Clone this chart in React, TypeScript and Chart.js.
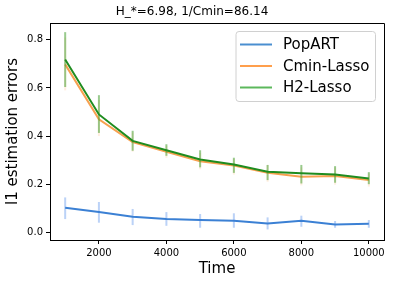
import React, { useEffect, useRef } from "react";
import { Chart, registerables } from "chart.js";

Chart.register(...registerables);

const times = [1000, 2000, 3000, 4000, 5000, 6000, 7000, 8000, 9000, 10000];
const popart = [0.102, 0.084, 0.065, 0.055, 0.051, 0.048, 0.037, 0.048, 0.032, 0.036];
const popartLo = [0.055, 0.04, 0.03, 0.027, 0.019, 0.019, 0.012, 0.023, 0.019, 0.019];
const popartHi = [0.145, 0.126, 0.097, 0.084, 0.076, 0.079, 0.062, 0.069, 0.047, 0.051];
const cmin = [0.698, 0.47, 0.375, 0.335, 0.295, 0.278, 0.248, 0.231, 0.234, 0.217];
const cminLo = [0.59, 0.4, 0.335, 0.31, 0.262, 0.24, 0.21, 0.195, 0.198, 0.19];
const cminHi = [0.81, 0.55, 0.415, 0.36, 0.33, 0.305, 0.28, 0.27, 0.27, 0.245];
const h2 = [0.718, 0.49, 0.38, 0.341, 0.303, 0.282, 0.252, 0.245, 0.24, 0.224];
const h2Lo = [0.604, 0.413, 0.339, 0.318, 0.27, 0.247, 0.217, 0.203, 0.206, 0.2];
const h2Hi = [0.832, 0.57, 0.422, 0.366, 0.341, 0.31, 0.28, 0.28, 0.275, 0.25];
const xTicks = [2000, 4000, 6000, 8000, 10000];
const yTicks = [0.0, 0.2, 0.4, 0.6, 0.8];
const seriesNames = ["PopART", "Cmin-Lasso", "H2-Lasso"];
const titleText = "H_*=6.98, 1/Cmin=86.14";

const lineColors = ["#3b80d4", "#f7a150", "#1f8c1f"];
const barColors = ["rgba(120,165,240,0.5)", "rgba(255,170,100,0.2)", "rgba(70,160,50,0.55)"];
const legendColors = ["#4a8fd0", "#ff9f4c", "#5cb85c"];
const lows = [popartLo, cminLo, h2Lo];
const highs = [popartHi, cminHi, h2Hi];

const FONT = "'DejaVu Sans', sans-serif";

const errorBarPlugin = {
  id: "errorBars",
  beforeDatasetDraw(chart: any, args: any) {
    const i = args.index;
    const xs = chart.scales.x;
    const ys = chart.scales.y;
    const ctx = chart.ctx;
    ctx.save();
    ctx.strokeStyle = barColors[i];
    ctx.lineWidth = 2;
    times.forEach((t, k) => {
      const px = xs.getPixelForValue(t);
      ctx.beginPath();
      ctx.moveTo(px, ys.getPixelForValue(lows[i][k]));
      ctx.lineTo(px, ys.getPixelForValue(highs[i][k]));
      ctx.stroke();
    });
    ctx.restore();
  },
};

const legendPlugin = {
  id: "innerLegend",
  afterDraw(chart: any) {
    const ctx = chart.ctx;
    const ca = chart.chartArea;
    const x0 = ca.right - 148;
    const y0 = ca.top + 8.5;
    const w = 139.5;
    const h = 70;
    ctx.save();
    ctx.fillStyle = "rgba(255,255,255,0.8)";
    ctx.strokeStyle = "#d0d0d0";
    ctx.lineWidth = 1;
    ctx.beginPath();
    (ctx as any).roundRect(x0, y0, w, h, 3);
    ctx.fill();
    ctx.stroke();
    ctx.font = `15px ${FONT}`;
    ctx.textBaseline = "middle";
    ctx.textAlign = "left";
    seriesNames.forEach((name, i) => {
      const cy = y0 + 13 + i * 21.5;
      ctx.strokeStyle = legendColors[i];
      ctx.lineWidth = 2;
      ctx.beginPath();
      ctx.moveTo(x0 + 4, cy);
      ctx.lineTo(x0 + 36, cy);
      ctx.stroke();
      ctx.fillStyle = "#000";
      ctx.fillText(name, x0 + 47, cy + 1);
    });
    ctx.restore();
  },
};

export default function App() {
  const ref = useRef<HTMLCanvasElement>(null);
  useEffect(() => {
    document.body.style.margin = "0";
    const series = [popart, cmin, h2];
    const chart = new Chart(ref.current as HTMLCanvasElement, {
      type: "line",
      data: {
        datasets: series.map((s, i) => ({
          label: seriesNames[i],
          data: times.map((t, k) => ({ x: t, y: s[k] })),
          borderColor: lineColors[i],
          backgroundColor: lineColors[i],
          borderWidth: 2,
          pointRadius: 0,
          tension: 0,
          fill: false,
          order: 3 - i,
        })),
      },
      options: {
        responsive: false,
        animation: false,
        layout: { padding: { left: 0, right: 10, top: 0, bottom: 0 } },
        plugins: {
          legend: { display: false },
          tooltip: { enabled: false },
          title: {
            display: true,
            text: titleText,
            color: "#000",
            font: { family: FONT, size: 12, weight: "normal" as any },
            padding: { top: 5, bottom: 3.6 },
          },
        },
        scales: {
          x: {
            type: "linear",
            min: 550,
            max: 10450,
            afterBuildTicks: (s: any) => {
              s.ticks = xTicks.map((v) => ({ value: v }));
            },
            afterFit: (s: any) => {
              s.height = 43;
            },
            ticks: {
              color: "#000",
              font: { family: FONT, size: 10 },
              padding: 3,
              maxRotation: 0,
              callback: (v: any) => String(v),
            },
            grid: { drawOnChartArea: false, drawTicks: true, tickLength: 4, color: "#000" },
            border: { display: true, color: "#000", width: 1 },
            title: {
              display: true,
              text: "Time",
              color: "#000",
              font: { family: FONT, size: 15 },
              padding: { top: 0, bottom: 5 },
            },
          },
          y: {
            type: "linear",
            min: -0.032,
            max: 0.87,
            afterBuildTicks: (s: any) => {
              s.ticks = yTicks.map((v) => ({ value: v }));
            },
            afterFit: (s: any) => {
              s.width = 50;
            },
            ticks: {
              color: "#000",
              font: { family: FONT, size: 10 },
              padding: 3,
              callback: (v: any) => Number(v).toFixed(1),
            },
            grid: { drawOnChartArea: false, drawTicks: true, tickLength: 4, color: "#000" },
            border: { display: true, color: "#000", width: 1 },
            title: {
              display: true,
              text: "l1 estimation errors",
              color: "#000",
              font: { family: FONT, size: 15 },
              padding: { top: 4, bottom: 0 },
            },
          },
        },
      },
      plugins: [
        errorBarPlugin,
        legendPlugin,
        {
          id: "frame",
          afterDraw(c: any) {
            const ctx = c.ctx;
            const a = c.chartArea;
            ctx.save();
            ctx.strokeStyle = "#000";
            ctx.lineWidth = 1;
            ctx.beginPath();
            ctx.moveTo(a.left, a.top + 0.5);
            ctx.lineTo(a.right + 0.5, a.top + 0.5);
            ctx.lineTo(a.right + 0.5, a.bottom);
            ctx.stroke();
            ctx.restore();
          },
        },
      ],
    });
    return () => chart.destroy();
  }, []);
  return <canvas ref={ref} width={394} height={283} style={{ display: "block" }} />;
}
